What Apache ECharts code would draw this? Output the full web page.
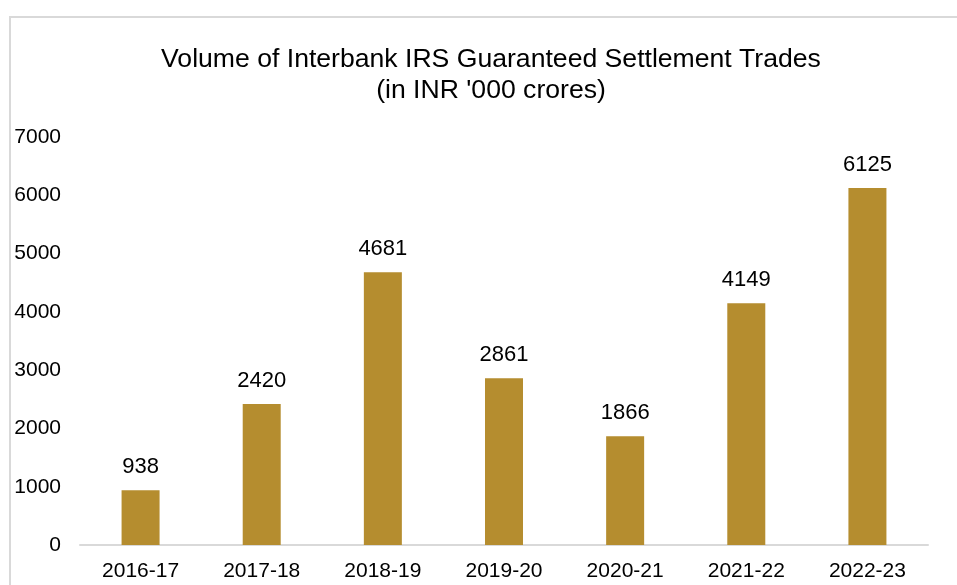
<!DOCTYPE html>
<html>
<head>
<meta charset="utf-8">
<script src="https://cdn.jsdelivr.net/npm/echarts@6/dist/echarts.min.js"></script>
<style>html,body{margin:0;padding:0;background:#fff}#c{width:957px;height:585px}</style>
</head>
<body>
<div id="c"></div>
<script>
const categories = ['2016-17','2017-18','2018-19','2019-20','2020-21','2021-22','2022-23'];
const volumes = [938, 2420, 4681, 2861, 1866, 4149, 6125];
const titleLines = ['Volume of Interbank IRS Guaranteed Settlement Trades', "(in INR '000 crores)"];

const chart = echarts.init(document.getElementById('c'), null, {renderer: 'canvas'});
const FONT = 'Liberation Sans, Arial, sans-serif';
chart.setOption({
  backgroundColor: '#fff',
  animation: false,
  graphic: [{
    type: 'polyline',
    shape: {points: [[10, 600], [10, 17], [960, 17]]},
    style: {stroke: '#d9d9d9', lineWidth: 2, fill: null},
    silent: true
  }],
  title: {
    text: titleLines.join('\n'),
    left: 486, top: 39, textAlign: 'center',
    textStyle: {fontFamily: FONT, fontSize: 26.6, fontWeight: 'normal', color: '#000', lineHeight: 31}
  },
  grid: {left: 80, right: 29, top: 137, bottom: 40},
  xAxis: {
    type: 'category', data: categories,
    axisLine: {lineStyle: {color: '#d9d9d9', width: 2}},
    axisTick: {show: false},
    axisLabel: {fontFamily: FONT, fontSize: 21, color: '#000', margin: 16}
  },
  yAxis: {
    type: 'value', min: 0, max: 7000, interval: 1000,
    splitLine: {show: false},
    axisLine: {show: false}, axisTick: {show: false},
    axisLabel: {fontFamily: FONT, fontSize: 21, color: '#000', margin: 19, formatter: v => String(v)}
  },
  series: [{
    type: 'bar', data: volumes, barWidth: 38,
    itemStyle: {color: '#B58D2F'},
    label: {show: true, position: 'top', distance: 12, fontFamily: FONT, fontSize: 22, color: '#000'}
  }]
});
</script>
</body>
</html>
